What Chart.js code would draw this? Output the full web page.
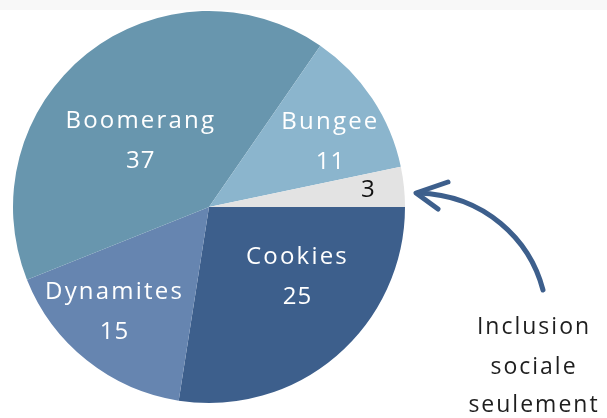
<!DOCTYPE html>
<html>
<head>
<meta charset="utf-8">
<script src="https://cdn.jsdelivr.net/npm/chart.js@4/dist/chart.umd.min.js"></script>
<style>
html,body{margin:0;padding:0;background:#ffffff;}
#wrap{position:relative;width:607px;height:418px;}
</style>
</head>
<body>
<div id="wrap"><canvas id="c" width="607" height="418"></canvas></div>
<script>
// Data
const categories = ["Cookies", "Dynamites", "Boomerang", "Bungee", "Inclusion sociale seulement"];
const values = [25, 15, 37, 11, 3];
const sliceColors = ["#3d5f8c", "#6685b0", "#6896ae", "#8bb5cd", "#e3e3e3"];
const showName = [true, true, true, true, false];
const annotationLines = ["Inclusion", "sociale", "seulement"];

// label placement: angle offset (deg) from slice mid, radius fraction
const labelLayout = [
  {dAng: -11, frac: 0.57, color: "#ffffff"},
  {dAng: 4,   frac: 0.72, color: "#ffffff"},
  {dAng: -7.5, frac: 0.49, color: "#ffffff"},
  {dAng: 5,   frac: 0.70, color: "#ffffff"},
  {dAng: 0,   frac: 0.81, color: "#111111"}
];

const FONT = '"Open Sans", sans-serif';

const deco = {
  id: 'deco',
  beforeDraw(chart) {
    const ctx = chart.ctx;
    ctx.save();
    ctx.fillStyle = '#f8f8f8';
    ctx.fillRect(0, 0, chart.width, 10);
    ctx.restore();
  },
  afterDatasetsDraw(chart) {
    const ctx = chart.ctx;
    const meta = chart.getDatasetMeta(0);
    ctx.save();
    ctx.textAlign = 'center';
    ctx.textBaseline = 'middle';
    meta.data.forEach((arc, i) => {
      const p = arc.getProps(['x','y','startAngle','endAngle','outerRadius'], true);
      const lay = labelLayout[i];
      const mid = (p.startAngle + p.endAngle) / 2 + lay.dAng * Math.PI / 180;
      const r = p.outerRadius * lay.frac;
      const cx = p.x + Math.cos(mid) * r + 1;
      const cy = p.y + Math.sin(mid) * r;
      ctx.fillStyle = lay.color;
      ctx.font = '400 24px ' + FONT;
      if (showName[i]) {
        try { ctx.letterSpacing = '2.2px'; } catch(e) {}
        ctx.fillText(categories[i], cx, cy - 19);
        try { ctx.letterSpacing = '1px'; } catch(e) {}
        ctx.fillText(String(values[i]), cx, cy + 21);
      } else {
        try { ctx.letterSpacing = '0px'; } catch(e) {}
        ctx.fillText(String(values[i]), cx, cy);
      }
    });
    // annotation arrow
    ctx.strokeStyle = '#3d5f8c';
    ctx.lineWidth = 5;
    ctx.lineCap = 'round';
    ctx.lineJoin = 'round';
    ctx.beginPath();
    ctx.moveTo(543, 290);
    ctx.bezierCurveTo(530, 240, 485, 195, 418, 193);
    ctx.stroke();
    ctx.beginPath();
    ctx.moveTo(448, 182);
    ctx.lineTo(416, 193);
    ctx.lineTo(438, 209);
    ctx.stroke();
    // annotation text
    ctx.fillStyle = '#1e1e1e';
    ctx.font = '400 23px ' + FONT;
    try { ctx.letterSpacing = '2px'; } catch(e) {}
    const ys = [327, 367, 405];
    annotationLines.forEach((t, k) => ctx.fillText(t, 534, ys[k]));
    ctx.restore();
  }
};

new Chart(document.getElementById('c'), {
  type: 'pie',
  data: {
    labels: categories,
    datasets: [{
      data: values,
      backgroundColor: sliceColors,
      borderWidth: 0
    }]
  },
  options: {
    responsive: false,
    animation: false,
    rotation: 90,
    layout: { padding: { top: 11, bottom: 15, left: 13, right: 202 } },
    plugins: { legend: { display: false }, tooltip: { enabled: false } }
  },
  plugins: [deco]
});
</script>
</body>
</html>
